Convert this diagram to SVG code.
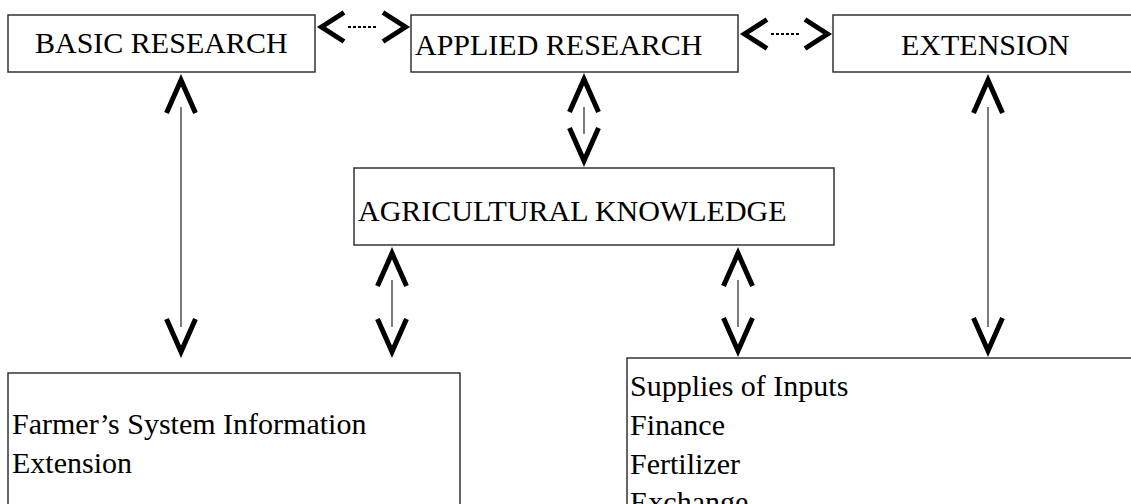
<svg xmlns="http://www.w3.org/2000/svg" width="1131" height="504" viewBox="0 0 1131 504">
<style>
.box{fill:#fff;stroke:#333;stroke-width:1.5}
.t{font-family:"Liberation Serif","Times New Roman",serif;font-size:30px;fill:#000}
.ln{stroke:#444;stroke-width:1.4;fill:none}
.dot{stroke:#000;stroke-width:2;stroke-dasharray:3 2;fill:none}
.chev{fill:none;stroke:#000;stroke-width:5;stroke-linejoin:miter;stroke-linecap:butt}
</style>
<defs>
<path id="vup" class="chev" d="M-14.5,39 L0,6.2 L14.5,39"/>
<path id="hleft" class="chev" d="M27,-14.5 L4.5,0 L27,14.5"/>
</defs>
<rect width="1131" height="504" fill="#fff"/>
<g id="basic-research">
<rect class="box" x="8" y="15" width="307" height="57"/>
<text class="t" x="35" y="53">BASIC RESEARCH</text>
</g>
<g id="applied-research">
<rect class="box" x="411" y="15" width="327" height="57"/>
<text class="t" x="415" y="55">APPLIED RESEARCH</text>
</g>
<g id="extension">
<rect class="box" x="833" y="15" width="310" height="57"/>
<text class="t" x="901" y="55">EXTENSION</text>
</g>
<g id="agricultural-knowledge">
<rect class="box" x="354" y="168" width="480" height="77"/>
<text class="t" x="358" y="221">AGRICULTURAL KNOWLEDGE</text>
</g>
<g id="farmers-system">
<rect class="box" x="8" y="373" width="452" height="140"/>
<text class="t" x="12" y="434">Farmer’s System Information</text>
<text class="t" x="12" y="473">Extension</text>
</g>
<g id="supplies">
<rect class="box" x="627" y="358" width="520" height="160"/>
<text class="t" x="630" y="396">Supplies of Inputs</text>
<text class="t" x="630" y="435">Finance</text>
<text class="t" x="630" y="474">Fertilizer</text>
<text class="t" x="630" y="512">Exchange</text>
</g>
<g id="connectors">
<use href="#hleft" transform="translate(317,27)"/>
<use href="#hleft" transform="translate(410,27) scale(-1,1)"/>
<line class="dot" x1="348" y1="27" x2="378" y2="27"/>
<use href="#hleft" transform="translate(740,34)"/>
<use href="#hleft" transform="translate(832,34) scale(-1,1)"/>
<line class="dot" x1="771" y1="34" x2="801" y2="34"/>
<use href="#vup" transform="translate(181,74)"/>
<line class="ln" x1="181" y1="107" x2="181" y2="327"/>
<use href="#vup" transform="translate(181,358) scale(1,-1)"/>
<use href="#vup" transform="translate(584,73)"/>
<line class="ln" x1="584" y1="107" x2="584" y2="134"/>
<use href="#vup" transform="translate(584,167) scale(1,-1)"/>
<use href="#vup" transform="translate(988,74)"/>
<line class="ln" x1="988" y1="107" x2="988" y2="327"/>
<use href="#vup" transform="translate(988,357) scale(1,-1)"/>
<use href="#vup" transform="translate(392,247)"/>
<line class="ln" x1="392" y1="280" x2="392" y2="327"/>
<use href="#vup" transform="translate(392,358) scale(1,-1)"/>
<use href="#vup" transform="translate(738,247)"/>
<line class="ln" x1="738" y1="280" x2="738" y2="327"/>
<use href="#vup" transform="translate(738,357) scale(1,-1)"/>
</g>
</svg>
